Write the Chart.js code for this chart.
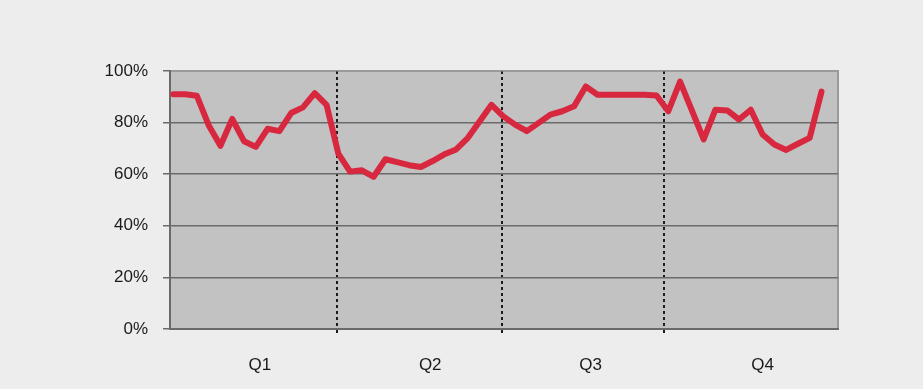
<!DOCTYPE html>
<html>
<head>
<meta charset="utf-8">
<script src="https://cdn.jsdelivr.net/npm/chart.js@4"></script>
<style>
  html, body { margin: 0; padding: 0; background: #ededed; }
  #wrap { width: 923px; height: 389px; }
</style>
</head>
<body>
<div id="wrap"><canvas id="myChart" width="923" height="389"></canvas></div>
<script>
const ctx = document.getElementById('myChart');

// quarter labels and where they sit on the x axis (in data units = week index)
const categories = ['Q1', 'Q2', 'Q3', 'Q4'];
const quarterCenters = [7.35, 21.8, 35.4, 50];
const quarterBounds = [13.9, 27.9, 41.6];
const yTicks = [0, 20, 40, 60, 80, 100];

// weekly values
const weeklyValues = [
    91, 91, 90.4, 79, 71, 81.4, 72.8, 70.6, 77.6, 76.7, 83.7, 85.9, 91.4, 86.9,
    68, 61, 61.5, 59, 65.8, 64.7, 63.5, 62.8, 65.1, 67.7, 69.6, 74.1, 80.5, 86.9,
    82.4, 79.2, 76.7, 79.9, 83.1, 84.4, 86.3, 94, 90.8, 90.8, 90.8, 90.8, 90.8, 90.5,
    84.4, 95.9, 84.7, 73.5, 85, 84.7, 81.2, 85, 75.4, 71.5, 69.4, 71.8, 74.1, 92
];

const lineColor = '#d8283f';
const gridColor = '#6a6a6a';
const fontSpec = {family: 'Liberation Sans, Arial, sans-serif', size: 17};

// grey plot background with a light frame
const plotBackground = {
    id: 'plotBackground',
    beforeDraw(chart) {
        const {ctx, chartArea: {top, left, width, height}} = chart;
        ctx.save();
        ctx.fillStyle = '#c2c2c2';
        ctx.fillRect(left, top, width, height);
        ctx.strokeStyle = '#9a9a9a';
        ctx.lineWidth = 2;
        ctx.strokeRect(left, top, width, height);
        ctx.restore();
    }
};

const isBound = (v) => quarterBounds.includes(v);

new Chart(ctx, {
    type: 'line',
    data: {
        datasets: [{
            data: weeklyValues.map((v, i) => ({x: i, y: v})),
            borderColor: lineColor,
            borderWidth: 6,
            pointRadius: 0,
            tension: 0,
            borderJoinStyle: 'round',
            borderCapStyle: 'round'
        }]
    },
    options: {
        responsive: false,
        animation: false,
        layout: {padding: {left: 0, right: 85, top: 71, bottom: 0}},
        plugins: {legend: {display: false}, tooltip: {enabled: false}},
        scales: {
            x: {
                type: 'linear',
                min: -0.28,
                max: 56.4,
                afterFit: (scale) => { scale.height = 60; },
                afterBuildTicks: (scale) => {
                    const ticks = [];
                    quarterCenters.forEach((v, i) => ticks.push({value: v, label: categories[i]}));
                    quarterBounds.forEach(v => ticks.push({value: v}));
                    ticks.sort((a, b) => a.value - b.value);
                    scale.ticks = ticks;
                },
                ticks: {
                    autoSkip: false,
                    maxRotation: 0,
                    padding: 22,
                    color: '#1a1a1a',
                    font: fontSpec,
                    callback: function (value) {
                        const i = quarterCenters.indexOf(value);
                        return i >= 0 ? categories[i] : '';
                    }
                },
                grid: {
                    color: (c) => c.tick && isBound(c.tick.value) ? '#1a1a1a' : 'rgba(0,0,0,0)',
                    tickColor: (c) => c.tick && isBound(c.tick.value) ? '#1a1a1a' : 'rgba(0,0,0,0)',
                    lineWidth: 2,
                    tickLength: 4
                },
                border: {color: gridColor, width: 2, dash: [3, 3]}
            },
            y: {
                min: 0,
                max: 100,
                afterFit: (scale) => { scale.width = 170; },
                afterBuildTicks: (scale) => {
                    scale.ticks = yTicks.map(v => ({value: v}));
                },
                ticks: {
                    padding: 15,
                    color: '#1a1a1a',
                    font: fontSpec,
                    callback: (v) => v + '%'
                },
                grid: {
                    color: (c) => c.tick && c.tick.value === 100 ? '#9a9a9a' : gridColor,
                    tickColor: gridColor,
                    lineWidth: 1.5,
                    tickLength: 7
                },
                border: {color: gridColor, width: 2}
            }
        }
    },
    plugins: [plotBackground]
});
</script>
</body>
</html>
